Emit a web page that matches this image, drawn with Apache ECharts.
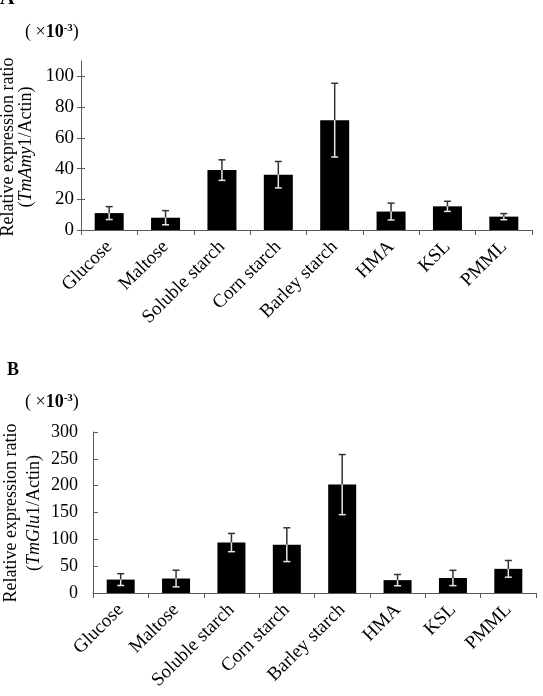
<!DOCTYPE html>
<html>
<head>
<meta charset="utf-8">
<script src="https://cdn.jsdelivr.net/npm/echarts@6/dist/echarts.min.js"></script>
<style>
  html, body { margin: 0; padding: 0; background: #fff; }
  #chart { width: 543px; height: 696px; }
</style>
</head>
<body>
<div id="chart"></div>
<script>
const categories = ["Glucose", "Maltose", "Soluble starch", "Corn starch", "Barley starch", "HMA", "KSL", "PMML"];

// panel A, TmAmy1 (x10^-3)
const amyMeans = [11, 8, 39, 36, 71.5, 12, 15.4, 8.7];
const amyErrors = [4.2, 4.6, 6.7, 8.6, 24, 5.5, 3.3, 2];
const amyTicks = [0, 20, 40, 60, 80, 100];

// panel B, TmGlu1 (x10^-3)
const gluMeans = [25, 27, 94, 90, 202, 24, 28, 45];
const gluErrors = [11, 15.5, 17, 31.5, 56, 10.5, 14.3, 15.6];
const gluTicks = [0, 50, 100, 150, 200, 250, 300];

const serif = "Liberation Serif";
const axisColor = "#595959";

const chart = echarts.init(document.getElementById("chart"), null, { renderer: "canvas" });

// error bar: dark above the bar top, light inside the black bar
function errorItem(params, api) {
  const idx = api.value(0);
  const mean = api.value(1);
  const err = api.value(2);
  const top = api.coord([idx, mean + err]);
  const mid = api.coord([idx, mean]);
  const bot = api.coord([idx, mean - err]);
  const cap = 3.5;
  return {
    type: "group",
    children: [
      { type: "line", shape: { x1: top[0], y1: top[1], x2: mid[0], y2: mid[1] }, style: { stroke: "#333", lineWidth: 1.5 } },
      { type: "line", shape: { x1: top[0] - cap, y1: top[1], x2: top[0] + cap, y2: top[1] }, style: { stroke: "#333", lineWidth: 1.5 } },
      { type: "line", shape: { x1: mid[0], y1: mid[1], x2: bot[0], y2: bot[1] }, style: { stroke: "#e6e6e6", lineWidth: 1.5 } },
      { type: "line", shape: { x1: bot[0] - cap, y1: bot[1], x2: bot[0] + cap, y2: bot[1] }, style: { stroke: "#e6e6e6", lineWidth: 1.5 } }
    ]
  };
}

function xAxisFor(gridIndex) {
  return {
    type: "category",
    gridIndex: gridIndex,
    data: categories,
    axisLine: { lineStyle: { color: axisColor, width: 1 } },
    axisTick: { show: true, alignWithLabel: false, length: 5, lineStyle: { color: axisColor } },
    axisLabel: { interval: 0, rotate: 45, margin: 14, color: "#000", fontFamily: serif, fontSize: 19 },
    splitLine: { show: false }
  };
}

// vertical axis title, one line per call
function sideText(x, y, text) {
  return {
    type: "text", x: x, y: y, rotation: Math.PI / 2,
    style: {
      text: text, font: "18px " + serif, fill: "#000",
      textAlign: "center", textVerticalAlign: "middle",
      rich: { i: { font: "italic 18px " + serif, fill: "#000" } }
    }
  };
}

function scaleText(y) {
  return {
    type: "text", x: 25, y: y,
    style: {
      text: "( ×{b|10}{s|-3})",
      font: "18px " + serif, fill: "#000", textVerticalAlign: "middle",
      rich: {
        b: { font: "bold 18px " + serif, fill: "#000" },
        s: { font: "bold 11px " + serif, fill: "#000", verticalAlign: "top", padding: [0, 0, 8, 0] }
      }
    }
  };
}

const option = {
  animation: false,
  backgroundColor: "#fff",
  grid: [
    { left: 81, right: 11, top: 61, height: 169, outerBoundsMode: "none" },
    { left: 93, right: 7, top: 432, height: 161, outerBoundsMode: "none" }
  ],
  xAxis: [xAxisFor(0), xAxisFor(1)],
  yAxis: [
    {
      type: "value",
      gridIndex: 0,
      position: "left",
      min: 0,
      max: 110,
      interval: 20,
      axisLine: { show: true, lineStyle: { color: axisColor } },
      axisTick: { show: true, inside: false, length: 4, customValues: amyTicks, lineStyle: { color: axisColor } },
      axisLabel: { customValues: amyTicks, margin: 7, color: "#000", fontFamily: serif, fontSize: 19 },
      splitLine: { show: false }
    },
    {
      type: "value",
      gridIndex: 1,
      position: "left",
      min: 0,
      max: 300,
      interval: 50,
      axisLine: { show: true, lineStyle: { color: axisColor } },
      axisTick: { show: true, inside: true, length: 5, customValues: gluTicks, lineStyle: { color: axisColor } },
      axisLabel: { customValues: gluTicks, margin: 15, color: "#000", fontFamily: serif, fontSize: 18 },
      splitLine: { show: false }
    },
    {
      // inner half of the crossing ticks on panel A
      type: "value",
      gridIndex: 0,
      position: "left",
      min: 0,
      max: 110,
      interval: 20,
      axisLine: { show: false },
      axisTick: { show: true, inside: true, length: 4, customValues: amyTicks, lineStyle: { color: axisColor } },
      axisLabel: { show: false },
      splitLine: { show: false }
    }
  ],
  series: [
    {
      type: "bar", xAxisIndex: 0, yAxisIndex: 0,
      data: amyMeans, barWidth: 29,
      itemStyle: { color: "#000" }
    },
    {
      type: "custom", xAxisIndex: 0, yAxisIndex: 0, z: 5,
      renderItem: errorItem,
      encode: { x: 0, y: 1 },
      data: amyMeans.map((v, i) => [i, v, amyErrors[i]])
    },
    {
      type: "bar", xAxisIndex: 1, yAxisIndex: 1,
      data: gluMeans, barWidth: 28,
      itemStyle: { color: "#000" }
    },
    {
      type: "custom", xAxisIndex: 1, yAxisIndex: 1, z: 5,
      renderItem: errorItem,
      encode: { x: 0, y: 1 },
      data: gluMeans.map((v, i) => [i, v, gluErrors[i]])
    }
  ],
  graphic: [
    { type: "text", x: 0, y: 9, style: { text: "A", font: "bold 20px " + serif, fill: "#000", textVerticalAlign: "bottom" } },
    { type: "text", x: 7, y: 370, style: { text: "B", font: "bold 18px " + serif, fill: "#000", textVerticalAlign: "middle" } },
    scaleText(32),
    scaleText(402),
    sideText(8, 147, "Relative expression ratio"),
    sideText(26, 147, "({i|TmAmy}1/Actin)"),
    sideText(11, 513, "Relative expression ratio"),
    sideText(34, 513, "({i|TmGlu}1/Actin)")
  ]
};

chart.setOption(option);
</script>
</body>
</html>
